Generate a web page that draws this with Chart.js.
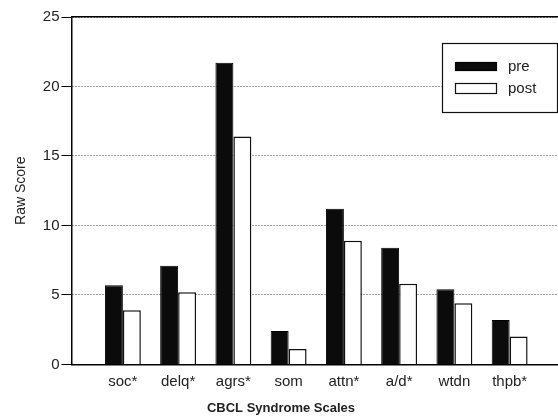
<!DOCTYPE html>
<html>
<head>
<meta charset="utf-8">
<script src="https://cdn.jsdelivr.net/npm/chart.js@4/dist/chart.umd.min.js"></script>
<style>
  html, body { margin: 0; padding: 0; background: #fff; }
  #wrap { width: 558px; height: 418px; position: relative; }
</style>
</head>
<body>
<div id="wrap"><canvas id="c" width="558" height="418"></canvas></div>
<script>
const CATEGORIES = ['soc*', 'delq*', 'agrs*', 'som', 'attn*', 'a/d*', 'wtdn', 'thpb*'];
const PRE = [5.7, 7.1, 21.7, 2.4, 11.2, 8.4, 5.4, 3.2];
const POST = [3.9, 5.2, 16.4, 1.1, 8.9, 5.8, 4.4, 2.0];
const SERIES_LABELS = ['pre', 'post'];
const Y_TICKS = [0, 5, 10, 15, 20, 25];
const X_TITLE = 'CBCL Syndrome Scales';
const Y_TITLE = 'Raw Score';

const FONT = "'Liberation Sans', Arial, Helvetica, sans-serif";
const TEXT = '#222';

const toPoints = (vals) => vals.map((v, i) => ({ x: i + 1, y: v }));

const boxLegend = {
  id: 'boxLegend',
  afterDraw(chart) {
    const { ctx, chartArea } = chart;
    const w = 116, h = 70;
    const left = chartArea.right - w, top = chartArea.top + 26;
    ctx.save();
    ctx.fillStyle = '#fff';
    ctx.fillRect(left, top, w, h);
    ctx.strokeStyle = '#111';
    ctx.lineWidth = 1.2;
    ctx.strokeRect(left + 0.5, top + 0.5, w - 1, h - 1);
    const rows = [
      { y: top + 19, hh: 9 },
      { y: top + 40, hh: 11 }
    ];
    chart.data.datasets.forEach((ds, i) => {
      const r = rows[i];
      ctx.fillStyle = ds.backgroundColor;
      ctx.fillRect(left + 13, r.y, 42, r.hh);
      ctx.strokeStyle = ds.borderColor;
      ctx.lineWidth = 1.2;
      ctx.strokeRect(left + 13.5, r.y + 0.5, 41, r.hh - 1);
      ctx.fillStyle = TEXT;
      ctx.font = '15px ' + FONT;
      ctx.textBaseline = 'middle';
      ctx.textAlign = 'left';
      ctx.fillText(ds.label, left + 66, r.y + r.hh / 2);
    });
    ctx.restore();
  }
};

new Chart(document.getElementById('c'), {
  type: 'bar',
  data: {
    datasets: [
      { label: SERIES_LABELS[0], data: toPoints(PRE), backgroundColor: '#0b0b0b', borderColor: '#000', borderWidth: 1 },
      { label: SERIES_LABELS[1], data: toPoints(POST), backgroundColor: '#ffffff', borderColor: '#111', borderWidth: 1.5 }
    ]
  },
  options: {
    responsive: false,
    animation: false,
    devicePixelRatio: 1,
    layout: { padding: { left: 4, top: 17, right: 0, bottom: 0 } },
    datasets: { bar: { categoryPercentage: 0.65, barPercentage: 1.0 } },
    plugins: {
      legend: { display: false },
      tooltip: { enabled: false },
      title: {
        display: true,
        position: 'bottom',
        text: X_TITLE,
        color: TEXT,
        font: { family: FONT, size: 13, weight: 'bold' },
        padding: { top: 2, bottom: 2 }
      }
    },
    scales: {
      x: {
        type: 'linear',
        min: 0.07,
        max: 8.875,
        offset: false,
        grid: { display: false, drawTicks: false, offset: false },
        border: { display: true, color: '#000', width: 1.5 },
        ticks: {
          stepSize: 1,
          includeBounds: false,
          autoSkip: false,
          maxRotation: 0,
          padding: 8,
          color: TEXT,
          font: { family: FONT, size: 15 },
          callback: (v) => Number.isInteger(v) ? (CATEGORIES[v - 1] ?? '') : ''
        }
      },
      xTop: {
        type: 'linear',
        position: 'top',
        display: true,
        grid: { display: false, drawTicks: false },
        ticks: { display: false },
        border: { display: true, color: '#000', width: 1.5 }
      },
      y: {
        min: Y_TICKS[0],
        max: Y_TICKS[Y_TICKS.length - 1],
        afterBuildTicks: (s) => { s.ticks = Y_TICKS.map(v => ({ value: v })); },
        grid: { color: '#444', lineWidth: 1, drawTicks: true, tickLength: 10, tickColor: '#000', tickWidth: 1 },
        border: { display: true, color: '#000', width: 1.5, dash: [1, 2] },
        ticks: { padding: 2, color: TEXT, font: { family: FONT, size: 15 } },
        title: {
          display: true,
          text: Y_TITLE,
          color: TEXT,
          font: { family: FONT, size: 14 },
          padding: { top: 9, bottom: 11 }
        }
      }
    }
  },
  plugins: [boxLegend]
});
</script>
</body>
</html>
